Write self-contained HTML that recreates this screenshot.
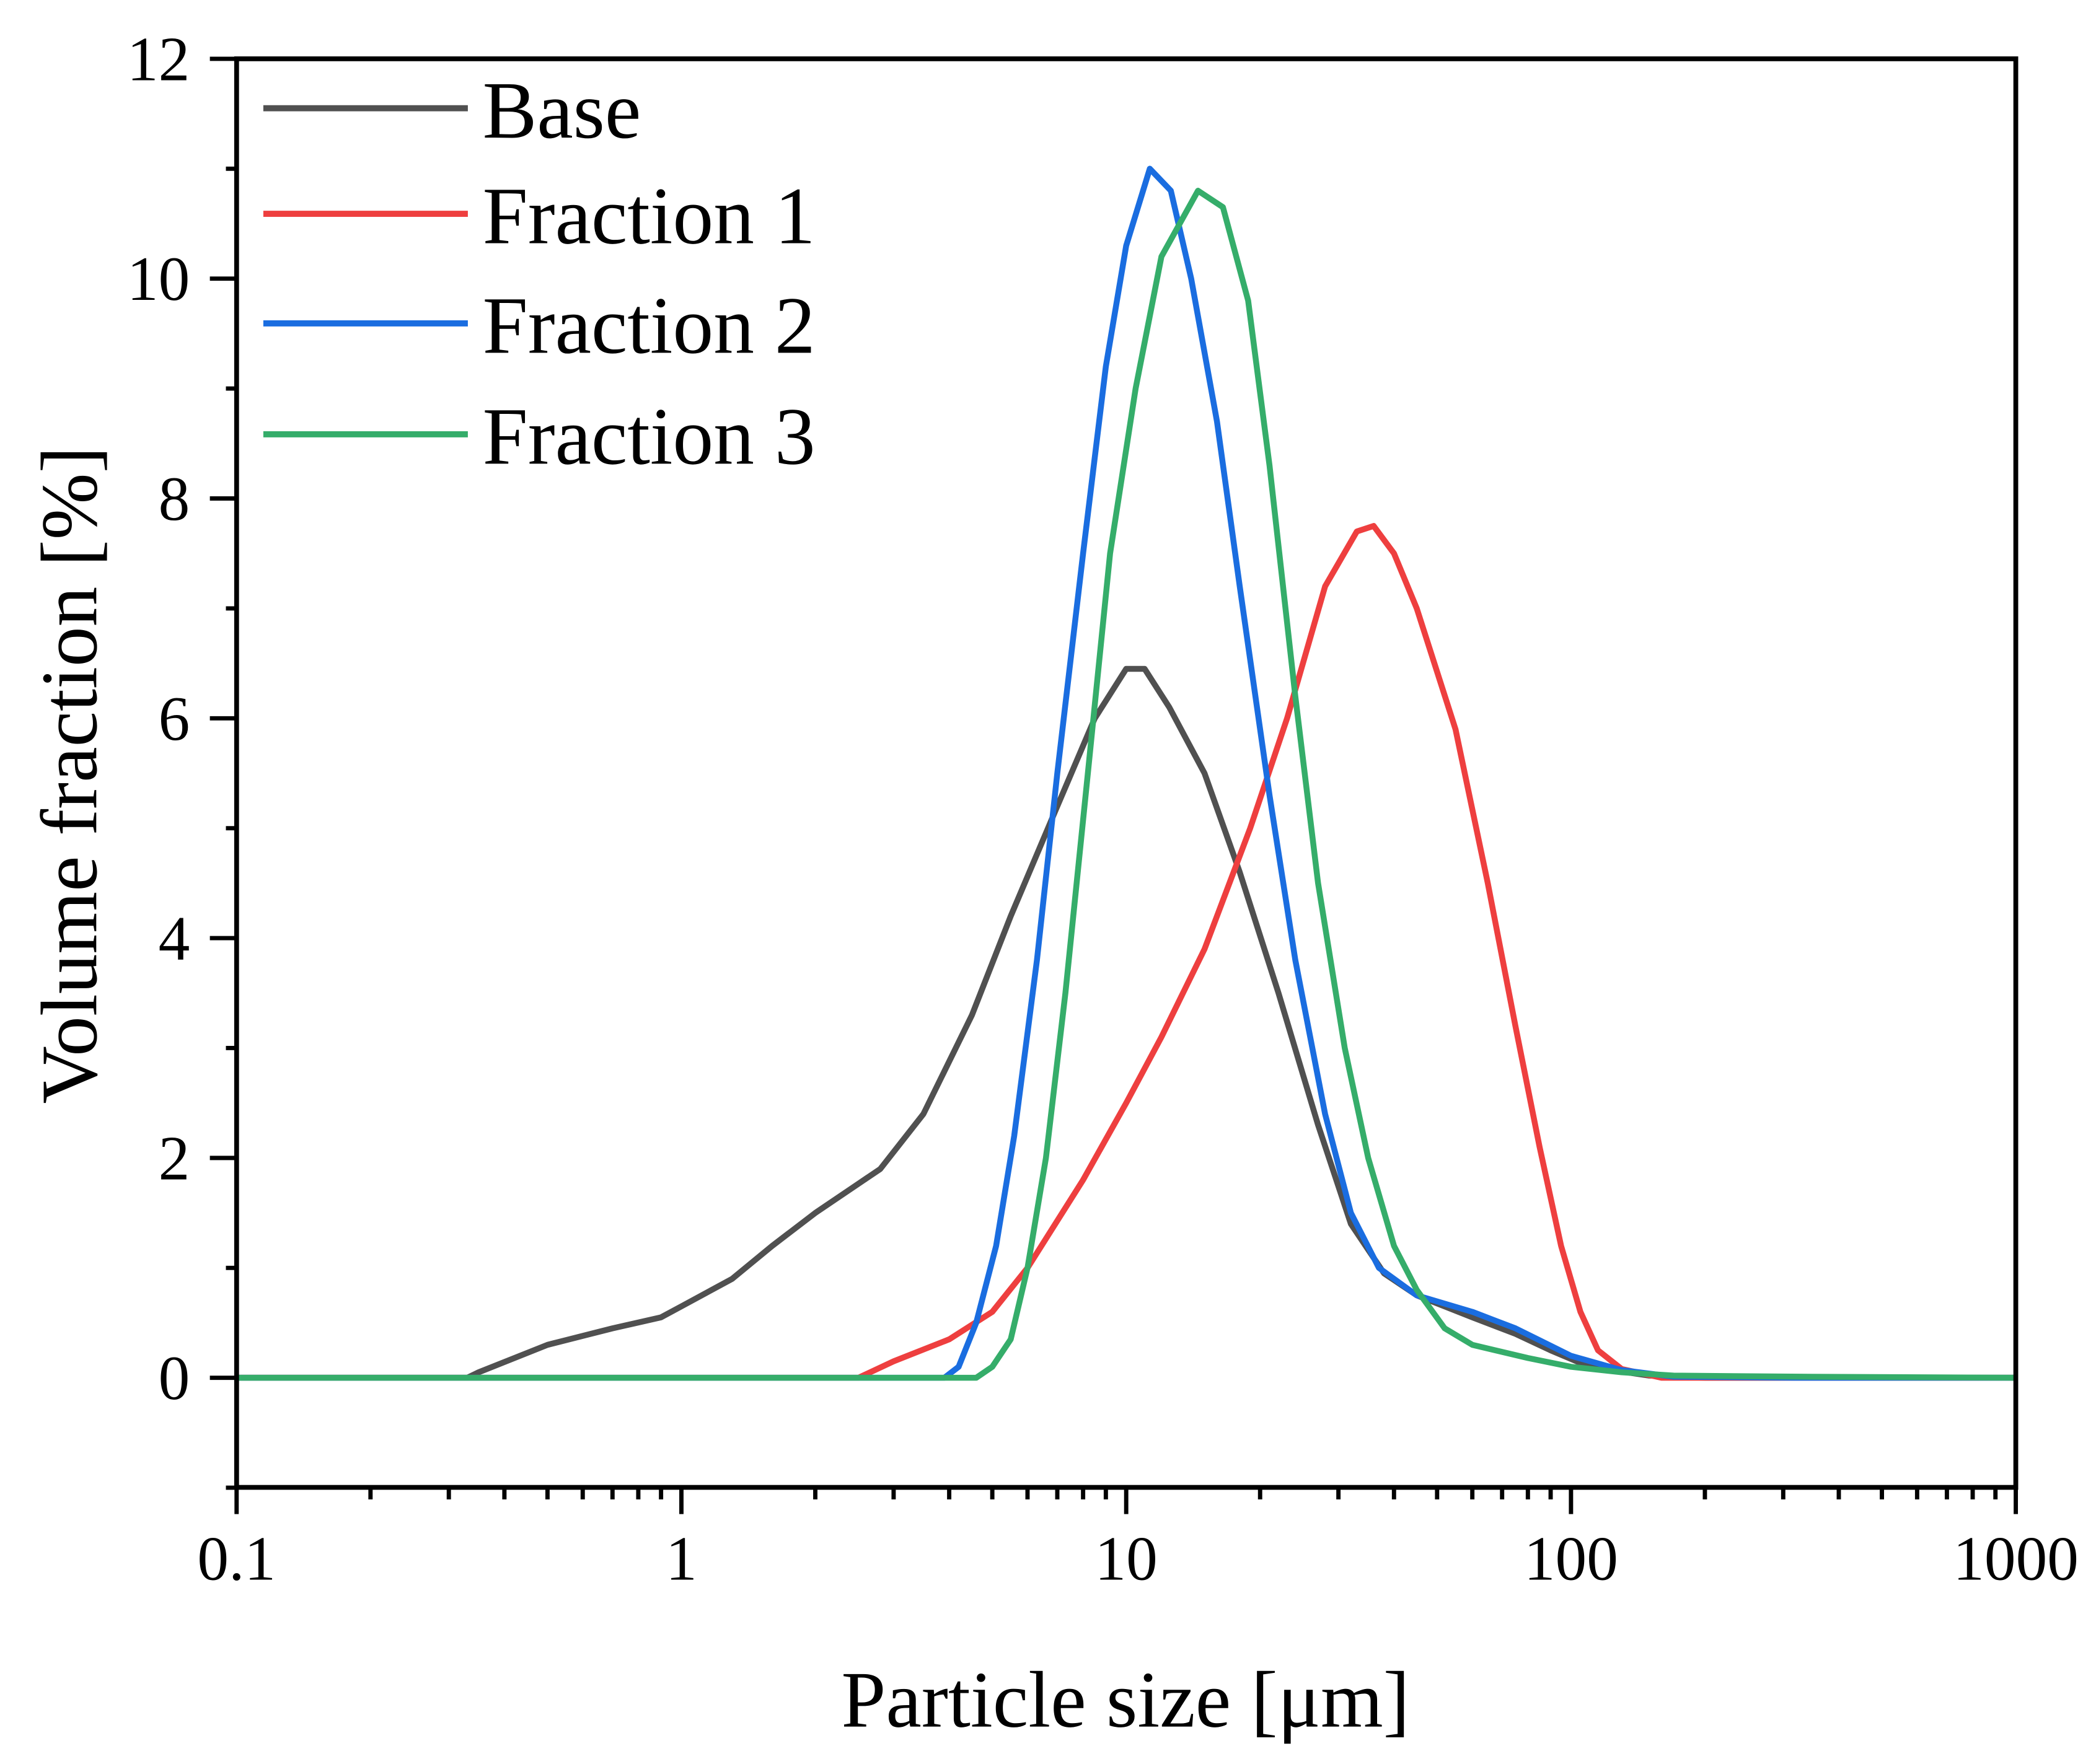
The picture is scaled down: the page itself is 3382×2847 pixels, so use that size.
<!DOCTYPE html>
<html><head><meta charset="utf-8"><style>
html,body{margin:0;padding:0;background:#fff;}
svg{display:block;font-family:"Liberation Serif",serif;}
</style></head><body>
<svg id="chart" width="3382" height="2847" viewBox="0 0 1568 1320" preserveAspectRatio="none" xmlns="http://www.w3.org/2000/svg">
<g id="marks"></g>
<g id="axes"></g>
<text x="842" y="1292" font-size="60" text-anchor="middle">Particle size [μm]</text>
<text transform="translate(72,580) rotate(-90)" font-size="60" text-anchor="middle">Volume fraction [%]</text>
<g id="legend"></g>
</svg>
<script>
const baseX=[0.1,0.33,0.35,0.5,0.7,0.9,1.0,1.3,1.6,2,2.8,3.5,4.5,5.5,7,8.5,10,11,12.5,15,18,22,27,32,38,45,60,75,90,110,150,200,1000];
const baseY=[0,0,0.05,0.3,0.45,0.55,0.65,0.9,1.2,1.5,1.9,2.4,3.3,4.2,5.2,6.0,6.45,6.45,6.1,5.5,4.6,3.5,2.3,1.4,0.95,0.75,0.55,0.4,0.25,0.1,0.02,0,0];
const f1X=[0.1,2.5,3,4,5,6,8,10,12,15,19,23,28,33,36,40,45,55,65,75,85,95,105,115,130,160,1000];
const f1Y=[0,0,0.15,0.35,0.6,1.0,1.8,2.5,3.1,3.9,5.0,6.0,7.2,7.7,7.75,7.5,7.0,5.9,4.5,3.2,2.1,1.2,0.6,0.25,0.08,0,0];
const f2X=[0.1,3.9,4.2,4.6,5.1,5.6,6.3,7,8,9,10,11.3,12.6,14,16,18,21,24,28,32,37,45,60,75,100,130,170,320,1000];
const f2Y=[0,0,0.1,0.5,1.2,2.2,3.8,5.5,7.5,9.2,10.3,11.0,10.8,10.0,8.7,7.2,5.3,3.8,2.4,1.5,1.0,0.75,0.6,0.45,0.2,0.07,0.01,0,0];
const f3X=[0.1,4.6,5,5.5,6,6.6,7.3,8.2,9.2,10.5,12,14.5,16.5,18.8,21,24,27,31,35,40,45,52,60,80,100,130,170,330,1000];
const f3Y=[0,0,0.1,0.35,1.0,2.0,3.5,5.5,7.5,9.0,10.2,10.8,10.65,9.8,8.3,6.2,4.5,3.0,2.0,1.2,0.8,0.45,0.3,0.18,0.1,0.05,0.02,0.01,0];
const seriesNames=["Base","Fraction 1","Fraction 2","Fraction 3"];
const yTicks=[0,2,4,6,8,10,12];
const xTicks=[0.1,1,10,100,1000];
const xTickLabels=["0.1","1","10","100","1000"];

const L=177,R=1508,T=44,B=1113,Y0=1031,YU=82.25,DEC=332.75;
const xs=v=>L+DEC*Math.log10(v/0.1);
const ys=v=>Y0-YU*v;
const NS="http://www.w3.org/2000/svg";
function mk(tag,attrs,parent){const e=document.createElementNS(NS,tag);for(const k in attrs)e.setAttribute(k,attrs[k]);parent.appendChild(e);return e;}
const marks=document.getElementById('marks'),axes=document.getElementById('axes'),leg=document.getElementById('legend');
const colors=["#505050","#ee3f3f","#1a6de0","#35ad6a"];
const data=[[baseX,baseY],[f1X,f1Y],[f2X,f2Y],[f3X,f3Y]];
const snames=["series-base","series-fraction-1","series-fraction-2","series-fraction-3"];
data.forEach((d,i)=>{
  const pts=d[0].map((x,j)=>xs(x).toFixed(2)+","+ys(d[1][j]).toFixed(2)).join(" ");
  const p=mk('polyline',{points:pts,fill:"none",stroke:colors[i],"stroke-width":4.4,"stroke-linejoin":"round"},marks);
  
  
});
const fr=mk('rect',{x:L,y:T,width:R-L,height:B-T,fill:"none",stroke:"#000","stroke-width":3.6},axes);


for(let v=-1;v<=12;v++){
  const major=v%2===0;
  const t=mk('line',{x1:L-(major?20:8),x2:L,y1:ys(v),y2:ys(v),stroke:"#000","stroke-width":3.2},axes);
  
  
}
yTicks.forEach(v=>{
  const t=mk('text',{x:142,y:ys(v)+16,"font-size":47,"text-anchor":"end"},axes);
  t.textContent=String(v);
  
  
});
for(let e=-1;e<=3;e++){
  for(let m=1;m<=9;m++){
    const v=m*Math.pow(10,e);
    if(v>1000.001)break;
    const major=m===1;
    const t=mk('line',{x1:xs(v),x2:xs(v),y1:B,y2:B+(major?20:9),stroke:"#000","stroke-width":3.2},axes);
    
    
  }
}
xTicks.forEach((v,i)=>{
  const t=mk('text',{x:xs(v),y:1182,"font-size":47,"text-anchor":"middle"},axes);
  t.textContent=xTickLabels[i];
  
  
});
const legY=[81,160,242,325];
seriesNames.forEach((n,i)=>{
  const g=mk('g',{},leg);
  
  
  mk('line',{x1:197,x2:350,y1:legY[i],y2:legY[i],stroke:colors[i],"stroke-width":4.6},g);
  const t=mk('text',{x:361,y:legY[i]+22,"font-size":61},g);
  t.textContent=n;
});
</script>
</body></html>
